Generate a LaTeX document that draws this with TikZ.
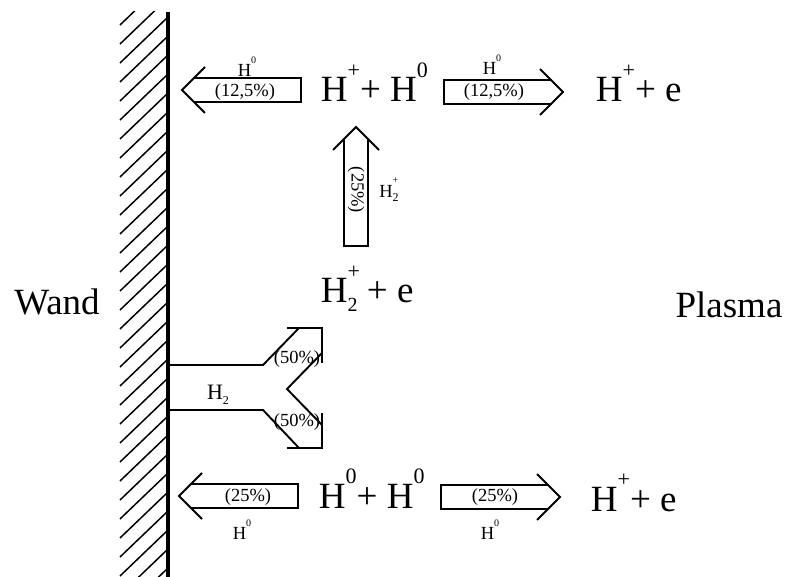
\documentclass[tikz,border=0pt]{standalone}
\usepackage{fontspec}
\setmainfont{Liberation Serif}

\newcommand\bigup[1]{\raisebox{0.66em}{\fontsize{22}{22}\selectfont #1}}
\newcommand\bigdown[1]{\raisebox{-0.22em}{\fontsize{20}{20}\selectfont #1}}
\newcommand\smallup[1]{\raisebox{0.72em}{\fontsize{10}{10}\selectfont #1}}
\newcommand\smalldown[1]{\raisebox{-0.25em}{\fontsize{12}{12}\selectfont #1}}

\begin{document}
\begin{tikzpicture}[x=1pt, y=-1pt, line width=1.9pt, line join=miter,
  big/.style={font=\fontsize{37}{40}\selectfont, inner sep=0pt},
  lbl/.style={font=\fontsize{18.5}{20}\selectfont, inner sep=0pt},
  blockarrow/.pic={
    \draw (-23,-23) -- (0,0) -- (-23,23);
    \draw (-11.5,-12) -- (-119,-12) -- (-119,12) -- (-11.5,12);
  }]

  \useasboundingbox (0,0) rectangle (787,577);

  % Wand
  \begin{scope}
    \clip (119,12) rectangle (168,577);
    \foreach \y in {-40,-21,...,620}
      \draw[line width=1.5pt] (168,\y) -- (120,\y+46);
  \end{scope}
  \draw[line width=3.5pt] (168,12) -- (168,577);

  \node[big, anchor=base] (wand) at (57,315) {Wand};
  \node[big, anchor=base] (plasma) at (729,317) {Plasma};

  % Reaktionen
  \node[big, anchor=base west] (hphz) at (320,102) {H\bigup{+}+ H\bigup{0}};
  \node[big, anchor=base west] (hpetop) at (595,102) {H\bigup{+}+ e};
  \node[big, anchor=base west] (htwope) at (320,303) {H\rlap{\bigup{+}}\bigdown{2} + e};
  \node[big, anchor=base west] (hzhz) at (318,508) {H\bigup{0}+ H\bigup{0}};
  \node[big, anchor=base west] (hpebot) at (590,511) {H\bigup{+}+ e};

  % Pfeile
  \pic[rotate=180] at (182,90) {blockarrow};
  \pic at (563,92) {blockarrow};
  \pic[rotate=90] at (356,127) {blockarrow};
  \pic[rotate=180] at (179,496) {blockarrow};
  \pic at (560,497) {blockarrow};

  \node[lbl] (hzl) at (247,67) {H\smallup{0}};
  \node[lbl] (pzl) at (245,92) {(12,5\%)};
  \node[lbl] (hzr) at (492,65) {H\smallup{0}};
  \node[lbl] (pzr) at (494,92) {(12,5\%)};
  \node[lbl, rotate=-90] (pup) at (356,190) {(25\%)};
  \node[lbl] (hup) at (389,190) {H\rlap{\smallup{+}}\smalldown{2}};
  \node[lbl] (pbl) at (248,497) {(25\%)};
  \node[lbl] (hbl) at (242,530) {H\smallup{0}};
  \node[lbl] (pbr) at (495,497) {(25\%)};
  \node[lbl] (hbr) at (490,530) {H\smallup{0}};

  % H2-Kanal
  \draw (168,365) -- (263,365) -- (299,328);
  \draw (287,328) -- (322,328) -- (322,363);
  \draw (322,353) -- (287,389) -- (322,425);
  \draw (322,413) -- (322,448) -- (287,448);
  \draw (168,410) -- (263,410) -- (299,448);
  \node[lbl, font=\fontsize{22}{24}\selectfont] (htwo) at (218,395) {H\smalldown{2}};
  \node[lbl] (pfu) at (297,359) {(50\%)};
  \node[lbl] (pfd) at (297,422) {(50\%)};

\end{tikzpicture}
\end{document}
